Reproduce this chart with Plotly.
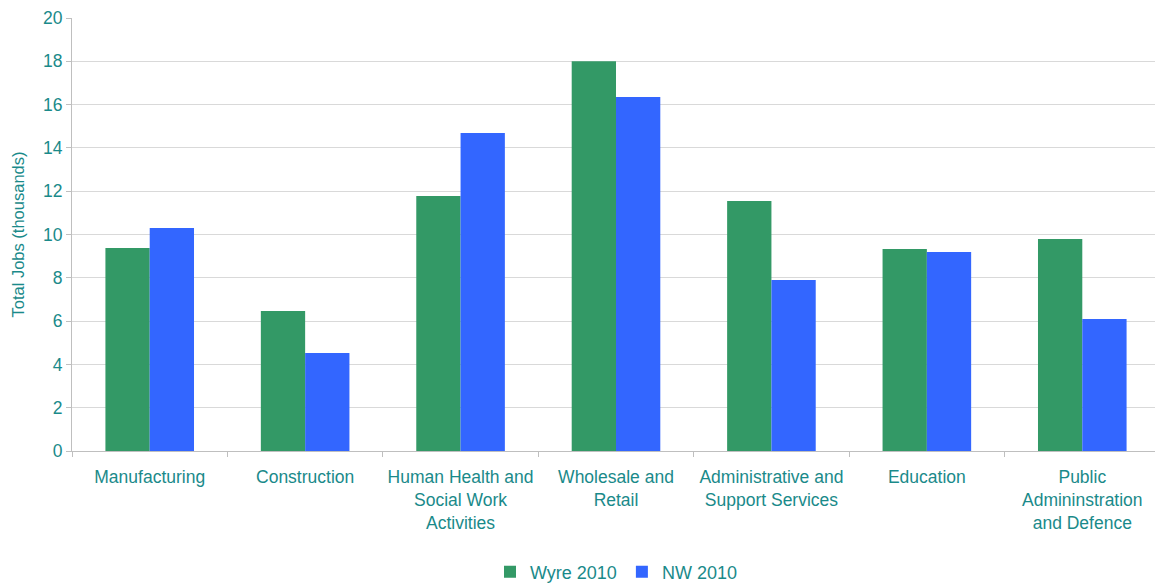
import plotly.graph_objects as go

categories = [
    "Manufacturing",
    "Construction",
    "Human Health and<br>Social Work<br>Activities",
    "Wholesale and<br>Retail",
    "Administrative and<br>Support Services",
    "Education",
    "Public<br>Admininstration<br>and Defence",
]
wyre_2010 = [9.38, 6.47, 11.78, 18.0, 11.55, 9.33, 9.79]
nw_2010 = [10.3, 4.53, 14.69, 16.35, 7.9, 9.19, 6.1]

teal = "#1a8a8a"

fig = go.Figure()
fig.add_trace(go.Bar(x=categories, y=wyre_2010, name="Wyre 2010",
                     marker=dict(color="#339966", line_width=0)))
fig.add_trace(go.Bar(x=categories, y=nw_2010, name="NW 2010",
                     marker=dict(color="#3366ff", line_width=0)))

# page body has an 8px margin, so the figure is sized/offset to compensate
fig.update_layout(
    width=1155, height=577,
    margin=dict(l=64, r=3, t=10, b=134),
    plot_bgcolor="white", paper_bgcolor="white",
    font=dict(family="Liberation Sans, Arial, sans-serif", size=17.5, color=teal),
    barmode="group", bargap=0.43, bargroupgap=0,
    legend=dict(orientation="h", x=0.5, xanchor="center", yref="container",
                y=0.0225, yanchor="middle",
                font=dict(size=18, color=teal), itemwidth=30),
)
fig.update_xaxes(
    automargin=False,
    showline=True, linecolor="#bfbfbf", linewidth=1,
    ticks="outside", tickson="boundaries", ticklen=5, tickcolor="#bfbfbf",
    ticklabelstandoff=10,
    tickfont=dict(size=17.5, color=teal),
)
fig.update_yaxes(
    automargin=False,
    range=[0, 20], dtick=2,
    showline=True, linecolor="#bfbfbf", linewidth=1,
    ticks="outside", ticklen=5, tickcolor="#bfbfbf",
    gridcolor="#d9d9d9", gridwidth=1,
    tickfont=dict(size=17.5, color=teal),
    title=dict(text="Total Jobs (thousands)", font=dict(size=16.5, color=teal), standoff=14),
)

fig.write_html("out.html")
